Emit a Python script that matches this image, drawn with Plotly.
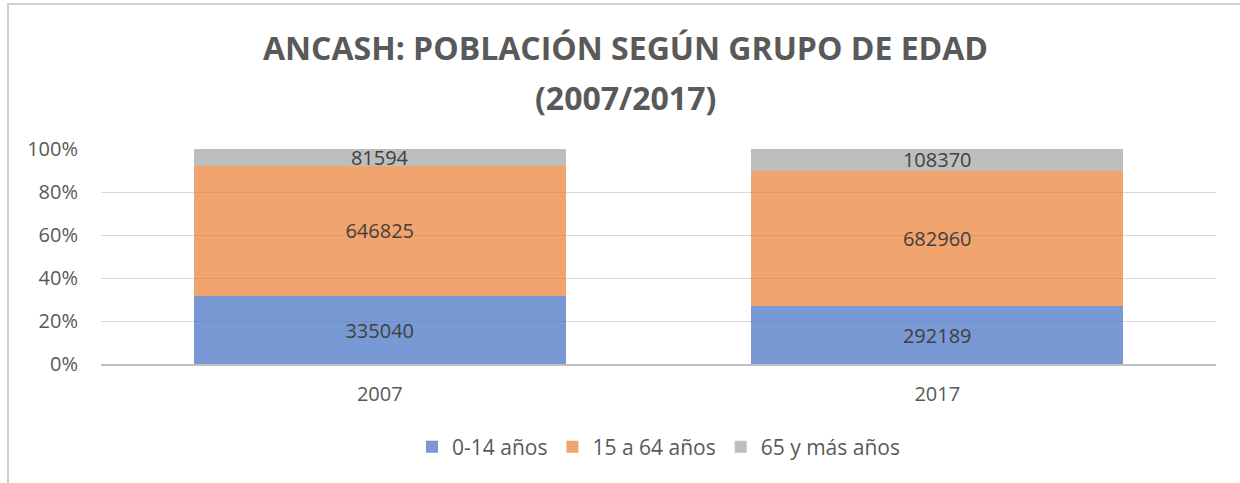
import plotly.graph_objects as go

years = ["2007", "2017"]
series_names = ["0-14 años", "15 a 64 años", "65 y más años"]
v_0_14 = [335040, 292189]
v_15_64 = [646825, 682960]
v_65 = [81594, 108370]
colors = ["rgba(68,114,196,0.72)", "rgba(237,125,49,0.70)", "rgba(165,165,165,0.72)"]
title_line1 = "ANCASH: POBLACIÓN SEGÚN GRUPO DE EDAD"
title_line2 = "(2007/2017)"

W, H = 1240, 483
L, R, T, B = 101, 24, 149, 119
pw = W - L - R
ph = H - T - B


def py(ypx):
    return (H - B - ypx) / ph


def px(xpx):
    return (xpx - L) / pw


fig = go.Figure()
for name, vals, col in zip(series_names, [v_0_14, v_15_64, v_65], colors):
    fig.add_trace(go.Bar(
        x=years, y=vals, name=name, marker=dict(color=col, line=dict(width=0)),
        text=[str(v) for v in vals], textposition="inside", insidetextanchor="middle",
        constraintext="none",
        textfont=dict(family="Open Sans", size=20, color="#404040"),
        hoverinfo="skip",
    ))

fig.update_layout(
    width=W, height=H, barmode="stack", barnorm="percent", bargap=0.333,
    margin=dict(l=L, r=R, t=T, b=B, autoexpand=False),
    paper_bgcolor="white", plot_bgcolor="white",
    font=dict(family="Open Sans", color="#595959"),
    legend=dict(orientation="h", x=0.5, xanchor="center", y=py(447), yanchor="middle",
                font=dict(family="Open Sans", size=21, color="#595959"),
                traceorder="normal"),
    xaxis=dict(tickfont=dict(size=20, color="#595959"), showline=True, linecolor="#bfbfbf",
               linewidth=1.5, ticks="", showgrid=False, ticklabelstandoff=11),
    yaxis=dict(range=[0, 100], dtick=20, ticksuffix="%", tickfont=dict(size=20, color="#595959"),
               showgrid=True, gridcolor="#d9d9d9", gridwidth=1, zeroline=False, showline=False,
               ticklabelstandoff=22),
    annotations=[
        dict(text="<b>" + title_line1 + "</b>", xref="paper", yref="paper", x=px(625), y=py(48),
             xanchor="center", yanchor="middle", showarrow=False,
             font=dict(family="Open Sans", size=32, color="#595959")),
        dict(text="<b>" + title_line2 + "</b>", xref="paper", yref="paper", x=px(625), y=py(97),
             xanchor="center", yanchor="middle", showarrow=False,
             font=dict(family="Open Sans", size=32, color="#595959")),
    ],
    shapes=[
        dict(type="rect", xref="paper", yref="paper",
             x0=px(8), x1=px(W + 10), y0=py(4), y1=py(H + 10),
             line=dict(color="#d0d0d0", width=2), fillcolor="rgba(0,0,0,0)", layer="below"),
    ],
)
fig.write_html("out.html", config={"displayModeBar": False},
               post_script="document.body.style.margin='0';")
